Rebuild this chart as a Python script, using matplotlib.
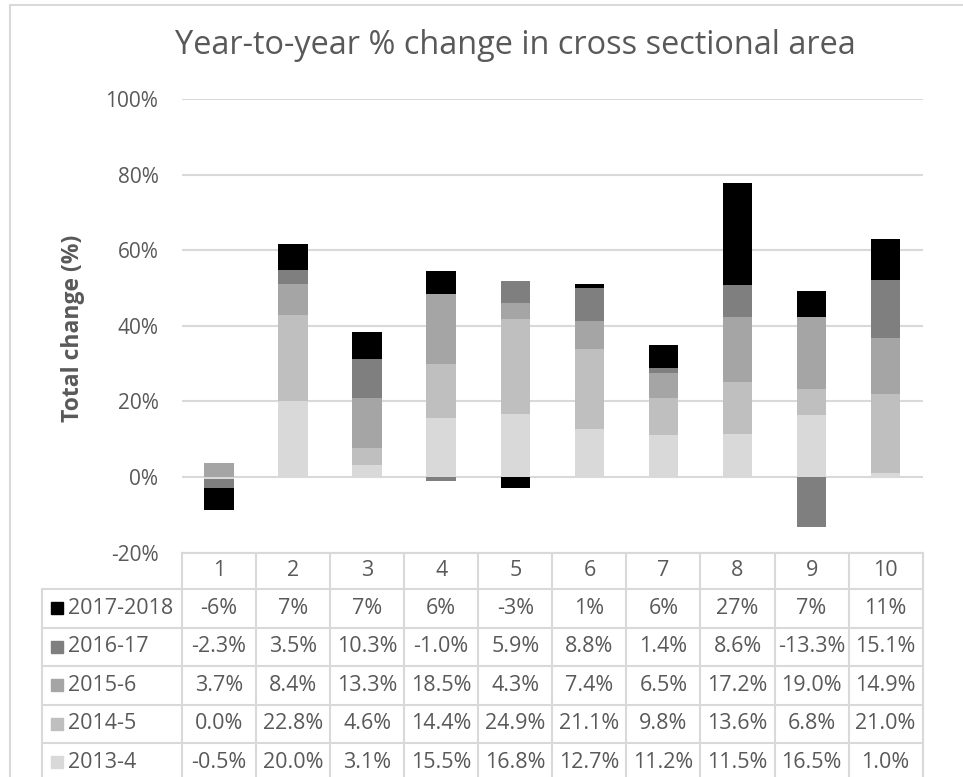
import numpy as np
import matplotlib.pyplot as plt
from matplotlib.transforms import blended_transform_factory
from matplotlib.lines import Line2D
from matplotlib.patches import Rectangle

plt.rcParams['font.family'] = ['Open Sans', 'DejaVu Sans']

# Sites along the section and yearly % change in cross sectional area
sites = ['1', '2', '3', '4', '5', '6', '7', '8', '9', '10']
series = ['2013-4', '2014-5', '2015-6', '2016-17', '2017-2018']
chg_2013_4 = [-0.5, 20.0, 3.1, 15.5, 16.8, 12.7, 11.2, 11.5, 16.5, 1.0]
chg_2014_5 = [0.0, 22.8, 4.6, 14.4, 24.9, 21.1, 9.8, 13.6, 6.8, 21.0]
chg_2015_6 = [3.7, 8.4, 13.3, 18.5, 4.3, 7.4, 6.5, 17.2, 19.0, 14.9]
chg_2016_17 = [-2.3, 3.5, 10.3, -1.0, 5.9, 8.8, 1.4, 8.6, -13.3, 15.1]
chg_2017_18 = [-6, 7, 7, 6, -3, 1, 6, 27, 7, 11]
yticks = [-20, 0, 20, 40, 60, 80, 100]

values = [chg_2013_4, chg_2014_5, chg_2015_6, chg_2016_17, chg_2017_18]
formats = ['{:.1f}%', '{:.1f}%', '{:.1f}%', '{:.1f}%', '{:.0f}%']
colors = ['#d9d9d9', '#bfbfbf', '#a5a5a5', '#7f7f7f', '#000000']
text_c = '#595959'
line_c = '#d9d9d9'

W, H = 963, 777
def fx(px):
    return px / W
def fy(px):
    return 1 - px / H

fig = plt.figure(figsize=(W / 100, H / 100), dpi=100)
ax = fig.add_axes([fx(182), fy(552.7), fx(922.7) - fx(182), fy(99) - fy(552.7)])

# stacked bars: positives build up from zero, negatives build down
x = np.arange(len(sites))
pos_base = np.zeros(len(sites))
neg_base = np.zeros(len(sites))
for vals, c in zip(values, colors):
    v = np.array(vals, dtype=float)
    bottom = np.where(v >= 0, pos_base, neg_base)
    ax.bar(x, v, 0.4, bottom=bottom, color=c, zorder=3)
    pos_base = np.where(v >= 0, pos_base + v, pos_base)
    neg_base = np.where(v < 0, neg_base + v, neg_base)

ax.set_xlim(-0.5, len(sites) - 0.5)
ax.set_ylim(yticks[0], yticks[-1])
ax.set_yticks(yticks)
ax.set_yticklabels([f'{t}%' for t in yticks])
ax.set_xticks([])
ax.yaxis.grid(True, color=line_c, lw=1.5)
ax.set_axisbelow(True)
ax.tick_params(axis='y', length=0, pad=17, labelsize=15, labelcolor=text_c)
for s in ax.spines.values():
    s.set_visible(False)

fig.text(fx(515), fy(46), 'Year-to-year % change in cross sectional area',
         ha='center', va='center', fontsize=23.4, color=text_c)
fig.text(fx(73), fy(328), 'Total change (%)', rotation=90, ha='center',
         va='center', fontsize=16.5, fontweight='bold', color=text_c)

# data table under the plot
tr = blended_transform_factory(ax.transData, fig.transFigure)
row_edges = [552.7, 589, 627.5, 666, 704.5, 743, 781.5]
left_px, right_px = 42, 922.7
col_edges = np.arange(len(sites) + 1) - 0.5

def hline(y, x0, x1):
    fig.add_artist(Line2D([x0, x1], [fy(y), fy(y)], transform=fig.transFigure,
                          color=line_c, lw=1.5))

hline(row_edges[0], fx(182), fx(right_px))
for y in row_edges[1:]:
    hline(y, fx(left_px), fx(right_px))
for xe in col_edges:
    fig.add_artist(Line2D([xe, xe], [fy(row_edges[0]), fy(row_edges[-1])],
                          transform=tr, color=line_c, lw=1.5))
fig.add_artist(Line2D([fx(left_px)] * 2, [fy(row_edges[1]), fy(row_edges[-1])],
                      transform=fig.transFigure, color=line_c, lw=1.5))

hdr_y = fy((row_edges[0] + row_edges[1]) / 2)
for i, s in enumerate(sites):
    fig.text(i, hdr_y, s, transform=tr, ha='center', va='center',
             fontsize=15.5, color=text_c)

# rows listed newest first, as in the legend column
for r, k in enumerate(range(len(series) - 1, -1, -1)):
    yc = (row_edges[r + 1] + row_edges[r + 2]) / 2
    fig.add_artist(Rectangle((fx(51), fy(yc + 6)), fx(12), 12 / H,
                             transform=fig.transFigure, color=colors[k]))
    fig.text(fx(68), fy(yc), series[k], ha='left', va='center',
             fontsize=15.5, color=text_c)
    for i, v in enumerate(values[k]):
        fig.text(i, fy(yc), formats[k].format(v), transform=tr,
                 ha='center', va='center', fontsize=15.5, color=text_c)

# chart area border
fig.add_artist(Line2D([fx(10), 1], [fy(5), fy(5)], transform=fig.transFigure,
                      color=line_c, lw=1.5))
fig.add_artist(Line2D([fx(10), fx(10)], [0, fy(5)], transform=fig.transFigure,
                      color=line_c, lw=1.5))

fig.savefig('out.png', dpi=100)
